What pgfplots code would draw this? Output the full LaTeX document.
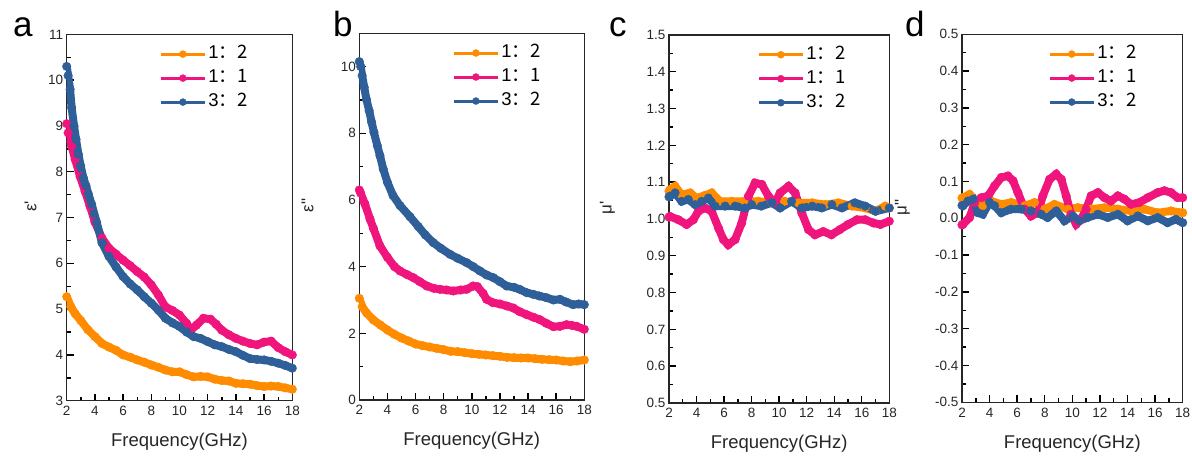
\documentclass[border=0pt]{standalone}
\usepackage{fontspec}
\setmainfont{Liberation Sans}
\newfontfamily\cjk{Noto Sans CJK SC}
\usepackage{pgfplots}
\pgfplotsset{compat=1.18}
\definecolor{cor}{RGB}{255,140,0}
\definecolor{cpk}{RGB}{240,20,125}
\definecolor{cbl}{RGB}{46,95,153}
\newcommand{\ratio}[2]{#1\cjk{：}#2}
\pgfplotsset{panel/.style={
 scale only axis, anchor=south west,
 xmin=2,xmax=18, xtick={2,4,...,18}, minor x tick num=1, minor y tick num=1,
 axis line style={line width=1.2pt, draw=black!85},
 major tick style={line width=1.4pt, draw=black},
 minor tick style={line width=1.4pt, draw=black},
 major tick length=7pt, minor tick length=4pt,
 tick align=inside, xtick pos=bottom, ytick pos=left,
 ticklabel style={font=\fontsize{13.5}{15}\selectfont, text=black!85},
 xticklabel style={yshift=-2pt},
 /pgf/number format/assume math mode=true,
 xlabel={Frequency(GHz)}, label style={font=\fontsize{18.5}{20}\selectfont, text=black!85},
 xlabel style={at={(axis description cs:0.5,-0.112)}, anchor=center},
 ylabel style={anchor=center, font=\fontsize{17}{19}\selectfont},
 every axis plot/.append style={line width=8pt, mark=*, mark size=4.3pt, mark options={line width=0.4pt, solid}},
 legend style={draw=none, fill=none, anchor=north west, font=\fontsize{18.5}{20}\selectfont, inner sep=0pt, row sep=4pt, nodes={inner sep=2pt, text height=12.5pt, text depth=3.5pt, font=\fontsize{18.5}{20}\selectfont}},
 legend cell align=left,
 legend image code/.code={\draw[mark repeat=2,mark phase=2,##1,line width=3pt, mark size=3.5pt] plot coordinates {(0pt,0pt) (22pt,0pt) (44pt,0pt)};},
}}
\begin{document}
\begin{tikzpicture}
\useasboundingbox (0pt,0pt) rectangle (1192pt,457pt);
% ---------- a ----------
\begin{axis}[panel, at={(66.7pt,56.3pt)}, width=225.6pt, height=366.3pt,
 ymin=3, ymax=11, ytick={3,4,...,11},
 ylabel={ε\textquotesingle}, ylabel style={at={(axis description cs:-0.16,0.53)}},
 legend style={at={(0.41,0.974)}}]
\addplot[cor] coordinates {(2,5.27)(2.3,5.05)(2.6,4.9)(3,4.75)(3.5,4.55)(4,4.4)(4.5,4.25)(5,4.17)(5.5,4.1)(6,4.0)(6.5,3.95)(7,3.89)(7.5,3.84)(8,3.78)(8.5,3.73)(9,3.67)(9.5,3.63)(10,3.63)(10.5,3.57)(11,3.52)(11.5,3.53)(12,3.52)(12.5,3.47)(13,3.44)(13.5,3.43)(14,3.38)(14.5,3.37)(15,3.36)(15.5,3.33)(16,3.31)(16.5,3.32)(17,3.31)(17.5,3.28)(18,3.25)};
\addlegendentry{\ratio{1}{2}}
\addplot[cpk] coordinates {(2,9.05)(2.1,8.85)(2.35,8.56)(2.6,8.27)(2.95,7.9)(3.3,7.57)(3.65,7.25)(4,6.9)(4.5,6.55)(5,6.33)(5.5,6.2)(6,6.07)(6.5,5.95)(7,5.82)(7.5,5.7)(8,5.53)(8.5,5.31)(9,5.05)(9.5,4.97)(10,4.87)(10.5,4.69)(10.8,4.54)(11.2,4.65)(11.7,4.8)(12.2,4.78)(12.6,4.67)(13,4.54)(13.5,4.44)(14,4.36)(14.5,4.3)(15,4.25)(15.5,4.22)(16,4.28)(16.5,4.3)(17,4.16)(17.5,4.07)(18,4.0)};
\addlegendentry{\ratio{1}{1}}
\addplot[cbl] coordinates {(2,10.3)(2.1,10.1)(2.24,9.8)(2.35,9.4)(2.52,9.0)(2.66,8.71)(2.83,8.38)(2.99,8.13)(3.18,7.87)(3.37,7.69)(3.54,7.51)(3.77,7.29)(4.13,6.89)(4.5,6.45)(5,6.15)(5.5,5.92)(6,5.71)(6.5,5.55)(7,5.42)(7.5,5.27)(8,5.13)(8.5,4.98)(9,4.8)(9.5,4.7)(10,4.62)(10.5,4.5)(11,4.4)(11.5,4.36)(12,4.29)(12.5,4.22)(13,4.18)(13.5,4.12)(14,4.07)(14.5,3.99)(15,3.92)(15.5,3.9)(16,3.89)(16.5,3.86)(17,3.82)(17.5,3.77)(18,3.71)};
\addlegendentry{\ratio{3}{2}}
\end{axis}
% ---------- b ----------
\begin{axis}[panel, at={(359.3pt,57pt)}, width=225pt, height=366.7pt,
 ymin=0, ymax=11, ytick={0,2,...,10},
 ylabel={ε\textquotedbl}, ylabel style={at={(axis description cs:-0.23,0.53)}},
 legend style={at={(0.413,0.974)}}]
\addplot[cor] coordinates {(2,3.05)(2.2,2.8)(2.52,2.61)(3,2.4)(3.5,2.25)(4,2.1)(4.5,1.97)(5,1.86)(5.5,1.77)(6,1.68)(6.5,1.63)(7,1.59)(7.5,1.55)(8,1.51)(8.5,1.46)(9,1.45)(9.5,1.42)(10,1.39)(10.5,1.37)(11,1.35)(11.5,1.33)(12,1.31)(12.5,1.28)(13,1.27)(13.5,1.26)(14,1.26)(14.5,1.24)(15,1.22)(15.5,1.21)(16,1.2)(16.5,1.17)(17,1.15)(17.5,1.17)(18,1.2)};
\addlegendentry{\ratio{1}{2}}
\addplot[cpk] coordinates {(2,6.3)(2.1,6.2)(2.4,5.88)(2.76,5.43)(3,5.15)(3.47,4.62)(4,4.28)(4.5,4.0)(4.9,3.87)(5.4,3.76)(5.84,3.67)(6.3,3.55)(6.8,3.42)(7.3,3.35)(7.74,3.32)(8.2,3.3)(8.68,3.27)(9.2,3.3)(9.63,3.32)(10.1,3.42)(10.4,3.4)(10.8,3.2)(11.05,3.02)(11.5,2.92)(12,2.88)(12.5,2.82)(12.95,2.76)(13.4,2.65)(13.9,2.56)(14.4,2.48)(14.84,2.41)(15.3,2.3)(15.8,2.2)(16.27,2.21)(16.74,2.26)(17.1,2.24)(17.45,2.21)(18,2.12)};
\addlegendentry{\ratio{1}{1}}
\addplot[cbl] coordinates {(2,10.15)(2.1,10.0)(2.2,9.73)(2.35,9.38)(2.5,9.03)(2.7,8.68)(2.88,8.33)(3.04,8.03)(3.28,7.63)(3.47,7.33)(3.7,6.93)(4.0,6.53)(4.4,6.13)(4.9,5.83)(5.6,5.5)(6.2,5.2)(6.7,4.95)(7.26,4.72)(7.8,4.55)(8.45,4.37)(9,4.25)(9.63,4.12)(10.1,4.0)(10.58,3.87)(11.05,3.75)(11.53,3.67)(12,3.55)(12.47,3.42)(13,3.38)(13.4,3.32)(13.9,3.22)(14.37,3.17)(14.8,3.12)(15.3,3.07)(15.8,3.0)(16.27,3.02)(16.7,2.94)(17.2,2.86)(17.6,2.88)(18,2.86)};
\addlegendentry{\ratio{3}{2}}
\end{axis}
% ---------- c ----------
\begin{axis}[panel, at={(669pt,54pt)}, width=220.3pt, height=368pt,
 ymin=0.5, ymax=1.5, ytick={0.5,0.6,0.7,0.8,0.9,1.0,1.1,1.2,1.3,1.4,1.5},
 yticklabels={0.5,0.6,0.7,0.8,0.9,1.0,1.1,1.2,1.3,1.4,1.5},
 ylabel={μ\textquotesingle}, ylabel style={at={(axis description cs:-0.28,0.53)}},
 legend style={at={(0.40,0.974)}}]
\addplot[cor] coordinates {(2,1.075)(2.07,1.08)(2.44,1.089)(2.92,1.066)(3.53,1.071)(4.0,1.057)(4.6,1.064)(5.1,1.071)(5.7,1.048)(6.55,1.048)(7.5,1.048)(8.5,1.048)(9.47,1.044)(10.4,1.048)(11.4,1.044)(12.4,1.044)(13.35,1.039)(14.3,1.044)(15.3,1.035)(16.25,1.03)(17,1.021)(17.7,1.035)(18,1.03)};
\addlegendentry{\ratio{1}{2}}
\addplot[cpk] coordinates {(2,1.005)(2.07,1.007)(2.68,0.998)(3.28,0.985)(3.77,0.998)(4.13,1.021)(4.6,1.03)(5.1,1.021)(5.6,0.975)(5.95,0.944)(6.3,0.93)(6.8,0.944)(7.28,0.989)(7.77,1.062)(8.25,1.098)(8.74,1.094)(9.22,1.062)(9.7,1.044)(10.07,1.071)(10.68,1.089)(11.16,1.071)(11.65,1.016)(12.13,0.971)(12.6,0.957)(13.2,0.966)(13.8,0.957)(14.4,0.971)(15.0,0.985)(15.65,0.998)(16.25,0.998)(16.86,0.989)(17.35,0.985)(18,0.994)};
\addlegendentry{\ratio{1}{1}}
\addplot[cbl] coordinates {(2,1.06)(2.07,1.062)(2.44,1.071)(2.92,1.048)(3.4,1.053)(3.9,1.039)(4.37,1.048)(4.86,1.057)(5.35,1.035)(6.07,1.035)(6.8,1.035)(7.5,1.03)(8.0,1.039)(8.7,1.035)(9.47,1.044)(10.07,1.03)(10.9,1.048)(11.65,1.03)(12.4,1.035)(13.1,1.03)(13.83,1.039)(14.56,1.03)(15.5,1.044)(16.25,1.035)(17,1.021)(18,1.03)};
\addlegendentry{\ratio{3}{2}}
\end{axis}
% ---------- d ----------
\begin{axis}[panel, at={(962pt,54.7pt)}, width=220.7pt, height=368pt,
 ymin=-0.5, ymax=0.5, ytick={-0.5,-0.4,-0.3,-0.2,-0.1,0,0.1,0.2,0.3,0.4,0.5},
 yticklabels={-0.5,-0.4,-0.3,-0.2,-0.1,0.0,0.1,0.2,0.3,0.4,0.5},
 ylabel={μ\textquotedbl}, ylabel style={at={(axis description cs:-0.27,0.53)}},
 legend style={at={(0.39,0.974)}}]
\addplot[cor] coordinates {(2,0.055)(2.07,0.056)(2.55,0.065)(3.04,0.047)(3.5,0.034)(4.1,0.047)(4.85,0.038)(5.57,0.043)(6.54,0.034)(7.26,0.043)(8,0.025)(8.7,0.038)(9.67,0.025)(10.4,0.029)(11.36,0.025)(12.33,0.029)(13.3,0.025)(14.26,0.02)(15.2,0.025)(16.19,0.015)(17.15,0.02)(18,0.015)};
\addlegendentry{\ratio{1}{2}}
\addplot[cpk] coordinates {(2,-0.018)(2.07,-0.016)(2.55,0.002)(2.92,0.043)(3.4,0.056)(3.9,0.061)(4.36,0.088)(4.85,0.111)(5.33,0.115)(5.7,0.102)(6.05,0.07)(6.54,0.025)(7.0,0.006)(7.5,0.015)(7.86,0.061)(8.35,0.106)(8.83,0.12)(9.2,0.106)(9.55,0.061)(9.9,0.011)(10.28,-0.016)(10.64,-0.003)(11.0,0.025)(11.36,0.061)(11.85,0.07)(12.33,0.056)(12.8,0.047)(13.3,0.061)(13.78,0.052)(14.26,0.038)(14.86,0.043)(15.47,0.056)(16.19,0.07)(16.67,0.075)(17.15,0.07)(17.64,0.056)(18,0.056)};
\addlegendentry{\ratio{1}{1}}
\addplot[cbl] coordinates {(2,0.035)(2.07,0.034)(2.43,0.047)(2.8,0.052)(3.16,0.015)(3.5,0.011)(4.0,0.043)(4.36,0.034)(4.85,0.015)(5.57,0.025)(6.3,0.025)(7.0,0.02)(7.74,0.011)(8.2,0.002)(8.83,0.02)(9.43,-0.007)(10.04,0.006)(10.5,-0.007)(11.1,0.002)(11.85,0.011)(12.57,0.002)(13.3,0.011)(14,-0.007)(14.74,0.006)(15.47,-0.007)(16.19,0.002)(16.9,-0.012)(17.5,-0.003)(18,-0.012)};
\addlegendentry{\ratio{3}{2}}
\end{axis}
\node[anchor=base west, font=\fontsize{35}{40}\selectfont, inner sep=0pt] at (13pt,420pt) {a};
\node[anchor=base west, font=\fontsize{35}{40}\selectfont, inner sep=0pt] at (333pt,420pt) {b};
\node[anchor=base west, font=\fontsize{35}{40}\selectfont, inner sep=0pt] at (609pt,420pt) {c};
\node[anchor=base west, font=\fontsize{35}{40}\selectfont, inner sep=0pt] at (905pt,420pt) {d};
\end{tikzpicture}
\end{document}
